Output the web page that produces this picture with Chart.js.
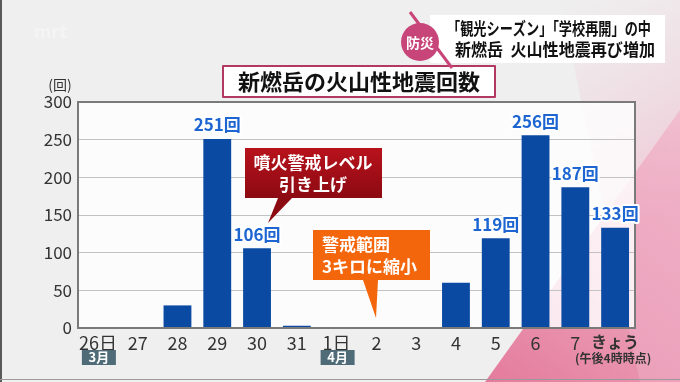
<!DOCTYPE html>
<html>
<head>
<meta charset="utf-8">
<script src="https://cdn.jsdelivr.net/npm/chart.js"></script>
<style>
  html, body { margin: 0; padding: 0; background: #efefef; }
  canvas { display: block; }
</style>
</head>
<body>
<canvas id="quakeChart" width="680" height="382"></canvas>
<script>
const days = ['26日', '27', '28', '29', '30', '31', '1日', '2', '3', '4', '5', '6', '7', 'きょう'];
const quakes = [0, 0, 30, 251, 106, 3, 0, 0, 0, 60, 119, 256, 187, 133];
const showValue = [false, false, false, true, true, false, false, false, false, false, true, true, true, true];
const months = [{ at: 0, text: '3月' }, { at: 6, text: '4月' }];
const yMax = 300;
const yStep = 50;

const JP = "'Noto Sans CJK JP', sans-serif";

const drawCallout = (ctx, box, tail, fill, lines, align) => {
    ctx.save();
    ctx.fillStyle = fill;
    ctx.beginPath();
    ctx.moveTo(box.x, box.y);
    ctx.lineTo(box.x + box.w, box.y);
    ctx.lineTo(box.x + box.w, box.y + box.h);
    ctx.lineTo(tail[1][0], box.y + box.h);
    ctx.lineTo(tail[2][0], tail[2][1]);
    ctx.lineTo(tail[0][0], box.y + box.h);
    ctx.lineTo(box.x, box.y + box.h);
    ctx.closePath();
    ctx.fill();
    ctx.fillStyle = '#ffffff';
    ctx.font = 'bold 17px ' + JP;
    ctx.textBaseline = 'middle';
    ctx.textAlign = align;
    lines.forEach(l => ctx.fillText(l.text, l.x, l.y));
    ctx.restore();
};

const backdrop = {
    id: 'backdrop',
    beforeDraw(chart) {
        const { ctx, chartArea: a } = chart;
        ctx.save();
        ctx.fillStyle = '#efefef';
        ctx.fillRect(0, 0, 680, 382);
        // pink band on the right
        let g = ctx.createLinearGradient(480, 382, 680, 120);
        g.addColorStop(0, '#e47a9c');
        g.addColorStop(1, '#f2c4d3');
        ctx.fillStyle = g;
        ctx.beginPath();
        ctx.moveTo(485, 382);
        ctx.lineTo(680, 110);
        ctx.lineTo(680, 382);
        ctx.closePath();
        ctx.fill();
        g = ctx.createLinearGradient(560, 0, 680, 200);
        g.addColorStop(0, 'rgba(240,200,215,0)');
        g.addColorStop(1, 'rgba(238,170,195,0.6)');
        ctx.fillStyle = g;
        ctx.beginPath();
        ctx.moveTo(560, 0);
        ctx.lineTo(680, 0);
        ctx.lineTo(680, 382);
        ctx.lineTo(640, 382);
        ctx.closePath();
        ctx.fill();
        // plot background
        ctx.fillStyle = 'rgba(255,255,255,0.82)';
        ctx.fillRect(a.left, a.top, a.right - a.left, a.bottom - a.top);
        // watermark
        ctx.fillStyle = 'rgba(255,255,255,0.35)';
        ctx.font = 'bold 18px ' + JP;
        ctx.textBaseline = 'middle';
        ctx.fillText('mrt', 34, 31);
        ctx.restore();
    },
    afterDraw(chart) {
        const { ctx, chartArea: a, scales } = chart;
        ctx.save();
        // frame
        ctx.strokeStyle = '#7a7a7a';
        ctx.lineWidth = 2;
        ctx.strokeRect(a.left, a.top, a.right - a.left, a.bottom - a.top);
        ctx.fillStyle = '#5a5a5a';
        ctx.fillRect(0, 0, 2, 382);
        ctx.fillStyle = '#9a9a9a';
        ctx.fillRect(0, 379, 680, 1);

        // value labels
        const meta = chart.getDatasetMeta(0);
        ctx.font = 'bold 17px ' + JP;
        ctx.textAlign = 'center';
        ctx.textBaseline = 'middle';
        ctx.lineJoin = 'round';
        meta.data.forEach((bar, i) => {
            if (!showValue[i]) return;
            const t = quakes[i] + '回';
            ctx.strokeStyle = '#ffffff';
            ctx.lineWidth = 4;
            ctx.strokeText(t, bar.x, bar.y - 14);
            ctx.fillStyle = '#1d66d2';
            ctx.fillText(t, bar.x, bar.y - 14);
        });

        // (回)
        ctx.fillStyle = '#333333';
        ctx.font = '14px ' + JP;
        ctx.fillText('(回)', 60, 85);

        // month badges
        months.forEach(m => {
            const x = scales.x.getPixelForValue(m.at);
            ctx.fillStyle = '#4f6b78';
            ctx.fillRect(x - 16, 350, 34, 15);
            ctx.fillStyle = '#ffffff';
            ctx.font = 'bold 13px ' + JP;
            ctx.fillText(m.text, x + 1, 357.5);
        });
        ctx.fillStyle = '#333333';
        ctx.font = 'bold 12px ' + JP;
        ctx.fillText('(午後4時時点)', scales.x.getPixelForValue(days.length - 1) - 2, 358);

        // callouts
        const r = ctx.createLinearGradient(0, 148, 0, 198);
        r.addColorStop(0, '#b8121c');
        r.addColorStop(1, '#8c0a12');
        drawCallout(ctx, { x: 245, y: 148, w: 137, h: 50 }, [[278, 198], [292, 198], [268, 223]], r,
            [{ text: '噴火警戒レベル', x: 313, y: 163 }, { text: '引き上げ', x: 313, y: 185 }], 'center');
        drawCallout(ctx, { x: 313, y: 230, w: 117, h: 50 }, [[363, 280], [378, 280], [376, 318]], '#f4660c',
            [{ text: '警戒範囲', x: 322, y: 245 }, { text: '3キロに縮小', x: 322, y: 267 }], 'left');

        // title box
        ctx.fillStyle = '#ffffff';
        ctx.fillRect(223, 66, 272, 31);
        ctx.strokeStyle = '#b23a62';
        ctx.lineWidth = 2;
        ctx.strokeRect(223, 66, 272, 31);
        ctx.fillStyle = '#111111';
        ctx.font = 'bold 22px ' + JP;
        ctx.textAlign = 'center';
        ctx.fillText('新燃岳の火山性地震回数', 359, 82);

        // header
        ctx.fillStyle = '#ffffff';
        ctx.fillRect(430, 15, 235, 48);
        ctx.strokeStyle = '#c8457a';
        ctx.lineWidth = 3;
        ctx.beginPath();
        ctx.moveTo(410, 12);
        ctx.lineTo(452, 68);
        ctx.stroke();
        ctx.fillStyle = '#c8457a';
        ctx.beginPath();
        ctx.arc(420, 42, 19, 0, Math.PI * 2);
        ctx.fill();
        ctx.fillStyle = '#ffffff';
        ctx.font = 'bold 14px ' + JP;
        ctx.fillText('防災', 420, 43);
        ctx.fillStyle = '#111111';
        ctx.font = 'bold 17px ' + JP;
        ctx.textAlign = 'left';
        ctx.fillText('「観光シーズン」「学校再開」の中', 447, 29, 204);
        ctx.fillText('新燃岳  火山性地震再び増加', 455, 50, 200);
        ctx.restore();
    }
};

new Chart(document.getElementById('quakeChart').getContext('2d'), {
    type: 'bar',
    data: {
        labels: days,
        datasets: [{
            data: quakes,
            backgroundColor: '#0b4aa3',
            barPercentage: 0.7,
            categoryPercentage: 1.0,
        }]
    },
    options: {
        responsive: false,
        animation: false,
        layout: { padding: { top: 102, right: 45, left: 0, bottom: 0 } },
        plugins: {
            legend: { display: false },
            tooltip: { enabled: false }
        },
        scales: {
            x: {
                grid: { display: false, drawTicks: false },
                border: { color: '#7a7a7a', width: 2 },
                ticks: {
                    padding: 4,
                    color: '#333333',
                    font: (c) => c.index === days.length - 1
                        ? { family: JP, size: 16, weight: 'bold' }
                        : { family: JP, size: 18 },
                    maxRotation: 0,
                    autoSkip: false
                },
                afterFit(s) { s.height = 54; }
            },
            y: {
                min: 0,
                max: yMax,
                grid: { color: '#c2c2c2', drawTicks: false },
                border: { color: '#7a7a7a', width: 2 },
                ticks: {
                    stepSize: yStep,
                    padding: 6,
                    color: '#333333',
                    font: { family: JP, size: 17 }
                },
                afterFit(s) { s.width = 78; }
            }
        }
    },
    plugins: [backdrop]
});
</script>
</body>
</html>
